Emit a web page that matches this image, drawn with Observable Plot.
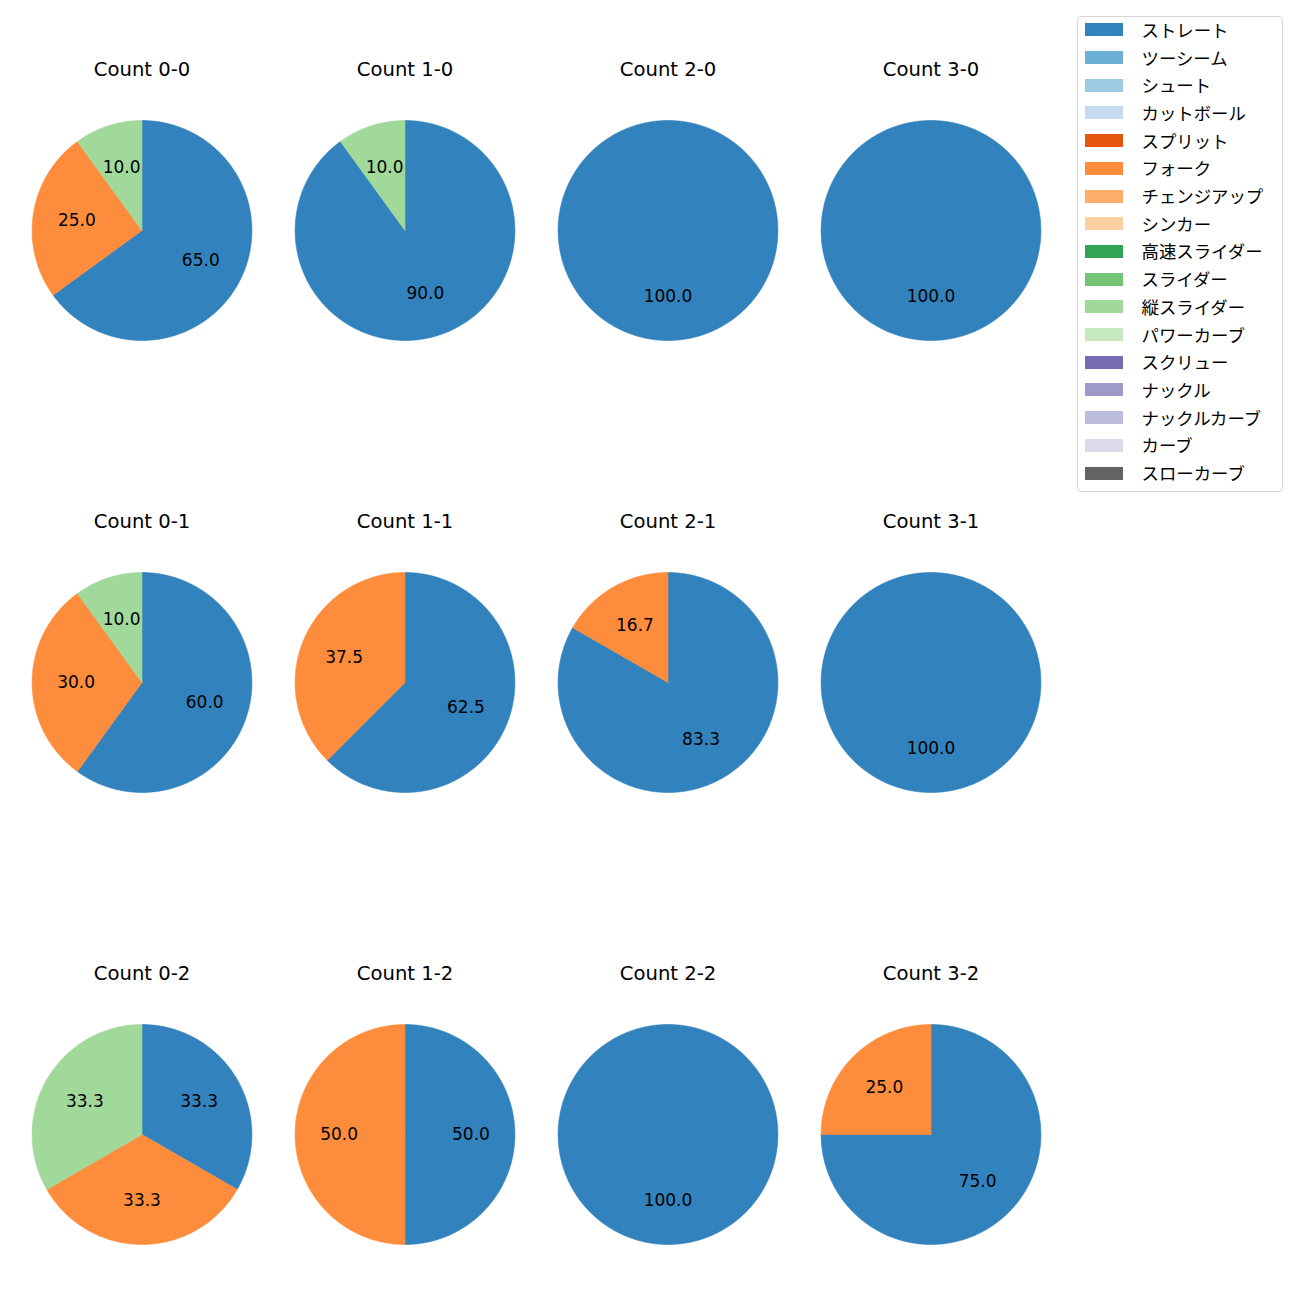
<!DOCTYPE html>
<html>
<head>
<meta charset="utf-8">
<script src="https://cdn.jsdelivr.net/npm/d3@7"></script>
<script src="https://cdn.jsdelivr.net/npm/@observablehq/plot@0.6"></script>
<style>
  body { margin: 0; background: #ffffff; }
  #wrap { position: relative; width: 1300px; height: 1300px; font-family: "DejaVu Sans", "Noto Sans CJK JP", sans-serif; }
  #chart { position: absolute; left: 0; top: 0; }
  #legend { position: absolute; left: 1076.5px; top: 15.5px; width: 206px; height: 476px; border: 1px solid #d4d4d4; border-radius: 4px; box-sizing: border-box; background: #ffffff; }
  .sw { position: absolute; left: 7px; width: 38.7px; height: 13px; }
  .lb { position: absolute; left: 64px; font-family: "Noto Sans CJK JP", sans-serif; font-size: 17.4px; line-height: 20px; color: #000; white-space: nowrap; }
</style>
</head>
<body>
<div id="wrap">
  <div id="chart"></div>
  <div id="legend"></div>
</div>
<script>
// Pitch types (legend order) and their colours
const pitchTypes = ["ストレート","ツーシーム","シュート","カットボール","スプリット","フォーク","チェンジアップ","シンカー","高速スライダー","スライダー","縦スライダー","パワーカーブ","スクリュー","ナックル","ナックルカーブ","カーブ","スローカーブ"];
const pitchColors = ["#3182bd","#6baed6","#9ecae1","#c6dbef","#e6550d","#fd8d3c","#fdae6b","#fdd0a2","#31a354","#74c476","#a1d99b","#c7e9c0","#756bb1","#9e9ac8","#bcbddc","#dadaeb","#636363"];

// Ball / strike grid
const balls = [0, 1, 2, 3];
const strikes = [0, 1, 2];

// Counts and pitch shares (percent), in clockwise order from the top
const countLabels = ["0-0","1-0","2-0","3-0","0-1","1-1","2-1","3-1","0-2","1-2","2-2","3-2"];
const countPitches = [
  ["ストレート","フォーク","縦スライダー"],
  ["ストレート","縦スライダー"],
  ["ストレート"],
  ["ストレート"],
  ["ストレート","フォーク","縦スライダー"],
  ["ストレート","フォーク"],
  ["ストレート","フォーク"],
  ["ストレート"],
  ["ストレート","フォーク","縦スライダー"],
  ["ストレート","フォーク"],
  ["ストレート"],
  ["ストレート","フォーク"]
];
const countShares = [
  [65.0, 25.0, 10.0],
  [90.0, 10.0],
  [100.0],
  [100.0],
  [60.0, 30.0, 10.0],
  [62.5, 37.5],
  [83.3, 16.7],
  [100.0],
  [33.3, 33.3, 33.3],
  [50.0, 50.0],
  [100.0],
  [75.0, 25.0]
];

// Build wedge outlines (unit circle, clockwise from 12 o'clock) and labels
const wedgePts = [];
const labels = [];
const titles = [];
countLabels.forEach((c, k) => {
  const [b, s] = c.split("-").map(Number);
  const vals = countShares[k];
  const total = d3.sum(vals);
  let cum = 0;
  vals.forEach((v, j) => {
    const pitch = countPitches[k][j];
    const f0 = cum / total, f1 = (cum + v) / total;
    cum += v;
    const key = c + "|" + pitch;
    const full = f1 - f0 > 0.9999;
    if (!full) wedgePts.push({x: 0, y: 0, b, s, key, pitch});
    const n = Math.max(4, Math.ceil((f1 - f0) * 720));
    for (let i = 0; i <= n; i++) {
      const a = Math.PI / 2 - 2 * Math.PI * (f0 + (f1 - f0) * i / n);
      wedgePts.push({x: Math.cos(a), y: Math.sin(a), b, s, key, pitch});
    }
    if (!full) wedgePts.push({x: 0, y: 0, b, s, key, pitch});
    const am = Math.PI / 2 - 2 * Math.PI * (f0 + f1) / 2;
    labels.push({x: 0.6 * Math.cos(am), y: 0.6 * Math.sin(am), b, s, text: v.toFixed(1)});
  });
  titles.push({b, s, text: "Count " + c});
});

// Layout: pie radius 110px, column step 263.2px, row step 452.75px
const R = 110;
const colStep = 263.2, rowStep = 452.75, bandH = 300;
const gridLeft = 141.5 - colStep / 2;
const gridTop = 229.5 - bandH / 2;
const pIn = 1 - bandH / rowStep;
const fyLen = rowStep * (strikes.length - pIn);

const chart = Plot.plot({
  width: 1300,
  height: 1300,
  marginLeft: gridLeft,
  marginRight: 1300 - gridLeft - colStep * balls.length,
  marginTop: gridTop,
  marginBottom: 1300 - gridTop - fyLen,
  fx: {domain: balls, axis: null, padding: 0},
  fy: {domain: strikes, axis: null, paddingInner: pIn, paddingOuter: 0},
  x: {domain: [-colStep / 2 / R, colStep / 2 / R], axis: null},
  y: {domain: [-bandH / 2 / R, bandH / 2 / R], axis: null},
  color: {domain: pitchTypes, range: pitchColors},
  style: {fontFamily: '"DejaVu Sans", sans-serif', background: "transparent", color: "#000"},
  marks: [
    Plot.line(wedgePts, {x: "x", y: "y", z: "key", fill: "pitch", stroke: "pitch", strokeWidth: 0.6, fx: "b", fy: "s", curve: "linear"}),
    Plot.text(labels, {x: "x", y: "y", text: "text", fx: "b", fy: "s", fontSize: 17, fill: "#000", lineAnchor: "middle"}),
    Plot.text(titles, {text: "text", fx: "b", fy: "s", frameAnchor: "top", lineAnchor: "middle", dy: -10.5, fontSize: 19.6, fill: "#000"})
  ]
});
document.getElementById("chart").appendChild(chart);

// Legend
const legend = document.getElementById("legend");
pitchTypes.forEach((p, i) => {
  const cy = 13.3 + i * 27.7;
  const sw = document.createElement("div");
  sw.className = "sw";
  sw.style.top = (cy - 6.5) + "px";
  sw.style.background = pitchColors[i];
  legend.appendChild(sw);
  const lb = document.createElement("div");
  lb.className = "lb";
  lb.style.top = (cy - 10) + "px";
  lb.textContent = p;
  legend.appendChild(lb);
});
</script>
</body>
</html>
